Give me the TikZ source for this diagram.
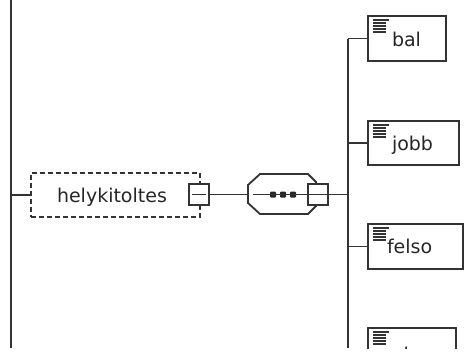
\documentclass[tikz,border=0pt]{standalone}
\usepackage{fontspec}
\setmainfont{DejaVu Sans}
\begin{document}
\begin{tikzpicture}[x=1pt,y=-1pt,
  ln/.style={draw=black!80, line width=1.8pt},
  elem/.style={ln, rectangle, inner sep=0pt, outer sep=0pt, fill=white},
  minusbox/.style={elem, minimum width=20pt, minimum height=21pt},
  optbox/.style={ln, dash pattern=on 5pt off 3pt, rectangle, inner sep=0pt, outer sep=0pt},
  txt/.style={font=\fontsize{19}{22}\selectfont, text=black!85, inner sep=0pt, outer sep=0pt, anchor=base west},
  icon/.style={draw=black!80, line width=1.6pt},
  dotsq/.style={fill=black!85, inner sep=0pt, minimum size=6pt, rectangle, rounded corners=1pt}
]
\useasboundingbox (0,0) rectangle (474,360);
\clip (0,0) rectangle (474,348);

% left bus
\coordinate (ltop) at (10.7,0);
\coordinate (lbot) at (10.7,348);
\draw[ln] (ltop) -- (lbot);

% optional helykitoltes element
\node[optbox, minimum width=169pt, minimum height=44pt] (hk) at (115.5,195) {};
\node[txt] (hkt) at (57,202) {helykitoltes};
\coordinate (j1) at (ltop |- hk.west);
\draw[ln] (j1) -- (hk.west);
\node[minusbox] (hkm) at (199,194.5) {};
\draw[ln] ([xshift=3pt]hkm.west) -- ([xshift=-3pt]hkm.east);

% sequence compositor
\node[inner sep=0pt, outer sep=0pt, minimum width=68pt, minimum height=40pt] (seq) at (282,194) {};
\draw[ln, fill=white] (248,185) -- (260,174) -- (308,174) -- (316,182) -- (316,206) -- (308,214) -- (260,214) -- (248,203) -- cycle;
\draw[ln] (hkm.east) -- (hkm.east -| seq.west);
\node[dotsq] (d1) at (273,194.5) {};
\node[dotsq] (d2) at (283,194.5) {};
\node[dotsq] (d3) at (293,194.5) {};
\node[minusbox] (seqm) at (318,194.5) {};
\draw[ln] (253,194.5) -- (seqm.east);

% right bus
\coordinate (rtop) at (348,38.5);
\coordinate (rbot) at (348,348);
\draw[ln] (rtop) -- (rbot);
\draw[ln] (seqm.east) -- (seqm.east -| rtop);

% child elements
\node[elem, minimum width=78pt, minimum height=45pt] (bal) at (407,38.5) {};
\node[elem, minimum width=91pt, minimum height=44pt] (jobb) at (413.5,143) {};
\node[elem, minimum width=95pt, minimum height=45pt] (felso) at (415.5,246.5) {};
\node[elem, minimum width=88pt, minimum height=45pt] (also) at (412,350.5) {};

\node[txt] (balt) at (392,46) {bal};
\node[txt] (jobbt) at (392,150) {jobb};
\node[txt] (felsot) at (387,253) {felso};
\node[txt] (alsot) at (392,361) {also};

\foreach \n in {bal,jobb,felso,also}{
  \draw[ln] (\n.west) -- (\n.west -| rtop);
  \draw[icon] ([shift={(5,4)}]\n.north west) -- ++(16,0);
  \foreach \k in {7,10,13,16}{
    \draw[icon] ([shift={(5,\k)}]\n.north west) -- ++(13,0);
  }
}
\end{tikzpicture}
\end{document}
